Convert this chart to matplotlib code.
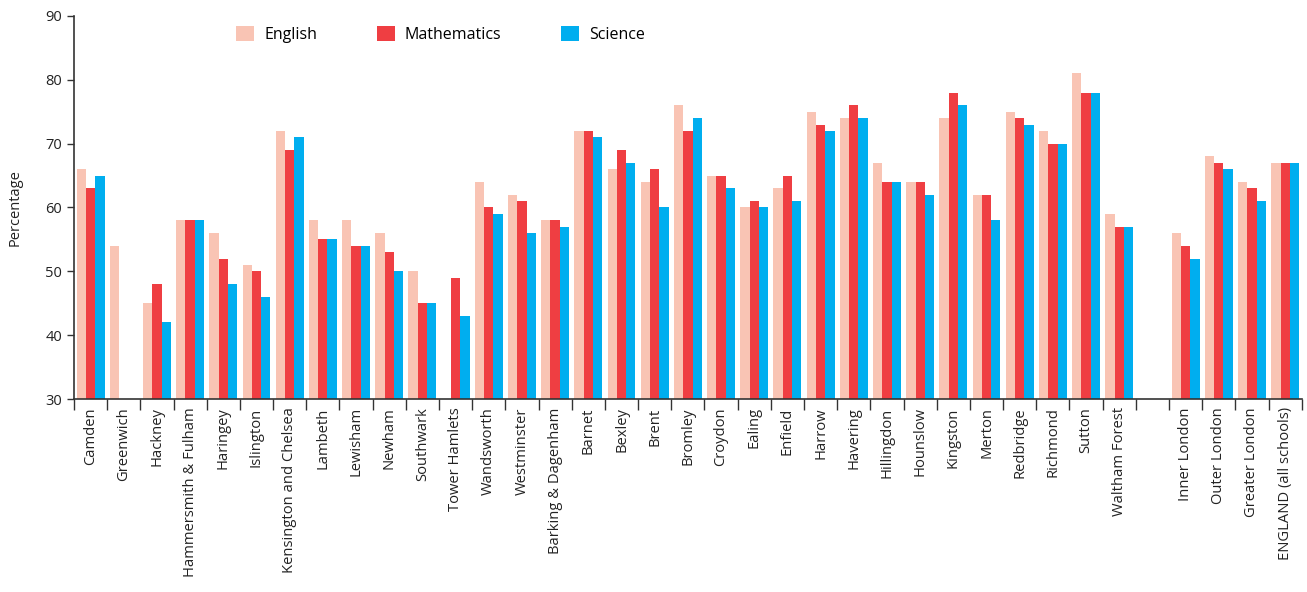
import numpy as np
import matplotlib.pyplot as plt

# boroughs, then the London / England aggregates after a gap
boroughs = ['Camden', 'Greenwich', 'Hackney', 'Hammersmith & Fulham', 'Haringey',
            'Islington', 'Kensington and Chelsea', 'Lambeth', 'Lewisham', 'Newham',
            'Southwark', 'Tower Hamlets', 'Wandsworth', 'Westminster',
            'Barking & Dagenham', 'Barnet', 'Bexley', 'Brent', 'Bromley', 'Croydon',
            'Ealing', 'Enfield', 'Harrow', 'Havering', 'Hillingdon', 'Hounslow',
            'Kingston', 'Merton', 'Redbridge', 'Richmond', 'Sutton', 'Waltham Forest']
totals = ['Inner London', 'Outer London', 'Greater London', 'ENGLAND (all schools)']

nan = np.nan
english = [66, 54, 45, 58, 56, 51, 72, 58, 58, 56, 50, nan, 64, 62, 58, 72, 66, 64, 76,
           65, 60, 63, 75, 74, 67, 64, 74, 62, 75, 72, 81, 59,
           56, 68, 64, 67]
maths = [63, nan, 48, 58, 52, 50, 69, 55, 54, 53, 45, 49, 60, 61, 58, 72, 69, 66, 72,
         65, 61, 65, 73, 76, 64, 64, 78, 62, 74, 70, 78, 57,
         54, 67, 63, 67]
science = [65, nan, 42, 58, 48, 46, 71, 55, 54, 50, 45, 43, 59, 56, 57, 71, 67, 60, 74,
           63, 60, 61, 72, 74, 64, 62, 76, 58, 73, 70, 78, 57,
           52, 66, 61, 67]

labels = boroughs + totals
pos = np.concatenate([np.arange(len(boroughs)),
                      np.arange(len(totals)) + len(boroughs) + 1])
nslots = len(boroughs) + 1 + len(totals)

plt.rcParams['font.family'] = ['Open Sans', 'DejaVu Sans']

fig = plt.figure(figsize=(13.07, 5.92), dpi=100)
ax = fig.add_axes([0.0566, 0.326, 0.9394, 0.647])

w = 0.28
ax.bar(pos - w, english, width=w, color='#F9C4B4', label='English')
ax.bar(pos, maths, width=w, color='#EF3E42', label='Mathematics')
ax.bar(pos + w, science, width=w, color='#00AEEF', label='Science')

ax.set_xlim(-0.5, nslots - 0.5)
ax.set_ylim(30, 90)
ax.set_yticks(np.arange(30, 91, 10))
ax.set_xticks(pos)
ax.set_xticklabels(labels, rotation=90, fontsize=10.6, color='#222222')
ax.set_xticks(np.arange(-0.5, nslots, 1), minor=True)
ax.tick_params(axis='x', which='major', length=0, pad=6)
ax.tick_params(axis='x', which='minor', length=8, width=1, color='#333333')
ax.tick_params(axis='y', length=5, width=1, color='#333333', labelsize=10.5, labelcolor='#222222')
ax.set_ylabel('Percentage', fontsize=10.5, color='#222222', labelpad=16)

for s in ['top', 'right']:
    ax.spines[s].set_visible(False)
for s in ['left', 'bottom']:
    ax.spines[s].set_color('#333333')
    ax.spines[s].set_linewidth(1.2)

ax.legend(loc='upper left', bbox_to_anchor=(0.1205, 1.012), ncol=3, frameon=False,
          fontsize=11.5, handlelength=1.1, handleheight=1.1, handletextpad=0.65,
          columnspacing=3.75)

fig.savefig('out.png', dpi=100)
